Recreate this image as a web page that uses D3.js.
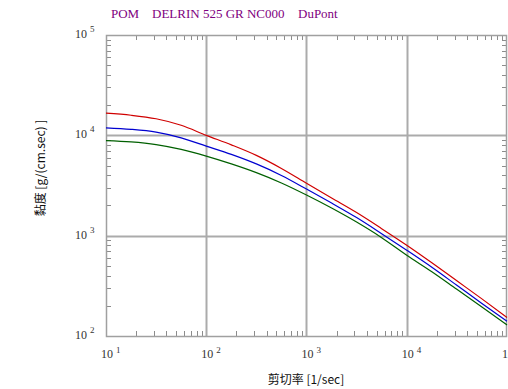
<!DOCTYPE html>
<html>
<head>
<meta charset="utf-8">
<script src="https://cdn.jsdelivr.net/npm/d3@7"></script>
<style>
  html, body { margin: 0; padding: 0; background: #ffffff; }
  svg { display: block; }
</style>
</head>
<body>
<svg id="chart" width="508" height="389"></svg>
<script>
// Shear rate [1/sec]
const shearRate = [10, 17.8, 31.6, 56.2, 100, 178, 316, 562, 1000, 1780, 3160, 5620,
                   10000, 17800, 31600, 56200, 100000];
// Viscosity curves [g/(cm.sec)]
const viscosityRed   = [16630, 15850, 14620, 12590, 10000, 8035, 6310, 4677, 3327, 2371,
                        1698, 1175, 803.5, 537, 354.8, 234.4, 153.1];
const viscosityBlue  = [11885, 11480, 10760, 9440, 7816, 6457, 5188, 3981, 2917, 2113,
                        1514, 1047, 716, 484, 320, 211, 140];
const viscosityGreen = [8872, 8610, 8091, 7244, 6209, 5188, 4246, 3350, 2541, 1884,
                        1365, 955, 638, 437, 292, 195, 129];
const seriesColors = ["#d00000", "#0000d0", "#006000"];

const xTickExps = [1, 2, 3, 4, 5];
const yTickExps = [2, 3, 4, 5];
const titleParts = ["POM", "DELRIN 525 GR NC000", "DuPont"];
const xTitle = "剪切率 [1/sec]";
const yTitle = "黏度 [g/(cm.sec) ]";

const svg = d3.select("#chart");
const plotL = 106, plotR = 507, plotT = 35, plotB = 336;

const x = d3.scaleLog().domain([10, 1e5]).range([plotL, plotR]);
const y = d3.scaleLog().domain([100, 1e5]).range([plotB, plotT]);

// Title
const titleX = [111, 152, 298];
svg.append("g").selectAll("text").data(titleParts).join("text")
  .attr("x", (d, i) => titleX[i]).attr("y", 18)
  .attr("font-family", "Liberation Serif, serif").attr("font-size", 13)
  .attr("fill", "#800080").text(d => d);

// Grid lines at each decade
const grid = svg.append("g").attr("stroke", "#ababab").attr("stroke-width", 2);
grid.selectAll("line.gx").data(xTickExps.slice(1, -1)).join("line")
  .attr("x1", d => Math.round(x(10 ** d)) + 0.5).attr("x2", d => Math.round(x(10 ** d)) + 0.5)
  .attr("y1", plotT).attr("y2", plotB);
grid.selectAll("line.gy").data(yTickExps.slice(1, -1)).join("line")
  .attr("y1", d => Math.round(y(10 ** d)) + 0.5).attr("y2", d => Math.round(y(10 ** d)) + 0.5)
  .attr("x1", plotL).attr("x2", plotR);

// Minor ticks, pointing inward on all four sides
const minorX = [], minorY = [];
for (let e = 1; e < 5; e++) for (let m = 2; m <= 9; m++) minorX.push(m * 10 ** e);
for (let e = 2; e < 5; e++) for (let m = 2; m <= 9; m++) minorY.push(m * 10 ** e);
const tk = 5;
const ticks = svg.append("g").attr("stroke", "#8c8c8c").attr("stroke-width", 1);
minorX.forEach(v => {
  const px = Math.round(x(v)) + 0.5;
  ticks.append("line").attr("x1", px).attr("x2", px).attr("y1", plotB).attr("y2", plotB - tk);
  ticks.append("line").attr("x1", px).attr("x2", px).attr("y1", plotT).attr("y2", plotT + tk);
});
minorY.forEach(v => {
  const py = Math.round(y(v)) + 0.5;
  ticks.append("line").attr("y1", py).attr("y2", py).attr("x1", plotL).attr("x2", plotL + tk);
  ticks.append("line").attr("y1", py).attr("y2", py).attr("x1", plotR).attr("x2", plotR - tk);
});

// Plot frame
svg.append("rect").attr("x", plotL + 0.5).attr("y", plotT + 0.5)
  .attr("width", plotR - plotL - 1).attr("height", plotB - plotT)
  .attr("fill", "none").attr("stroke", "#a0a0a0").attr("stroke-width", 1.5);

// Curves
const series = [viscosityRed, viscosityBlue, viscosityGreen];
const line = d3.line().x(d => x(d[0])).y(d => y(d[1])).curve(d3.curveMonotoneX);
svg.append("g").selectAll("path").data(series).join("path")
  .attr("d", vals => line(shearRate.map((s, i) => [s, vals[i]])))
  .attr("fill", "none").attr("stroke", (d, i) => seriesColors[i]).attr("stroke-width", 1.2);

// Tick labels: 10 with a superscript exponent
const lblFont = "Liberation Serif, serif";
const xl = svg.append("g").attr("font-family", lblFont).attr("fill", "#333");
xTickExps.forEach(e => {
  const t = xl.append("text").attr("x", x(10 ** e) - 5).attr("y", 358).attr("font-size", 12);
  t.append("tspan").text("10");
  t.append("tspan").attr("dx", 3).attr("dy", -5).attr("font-size", 9).text(e);
});
const yl = svg.append("g").attr("font-family", lblFont).attr("fill", "#333");
yTickExps.forEach(e => {
  const t = yl.append("text").attr("x", 75).attr("y", y(10 ** e) + 3).attr("font-size", 12);
  t.append("tspan").text("10");
  t.append("tspan").attr("dx", 3).attr("dy", -6).attr("font-size", 9).text(e);
});

// Axis titles
svg.append("text").attr("x", 306).attr("y", 384).attr("text-anchor", "middle")
  .attr("font-family", "Noto Sans CJK SC, sans-serif").attr("font-size", 12)
  .attr("fill", "#111").text(xTitle);
svg.append("text").attr("transform", "translate(45,168) rotate(-90)")
  .attr("text-anchor", "middle")
  .attr("font-family", "Noto Sans CJK SC, sans-serif").attr("font-size", 12)
  .attr("fill", "#111").text(yTitle);
</script>
</body>
</html>
